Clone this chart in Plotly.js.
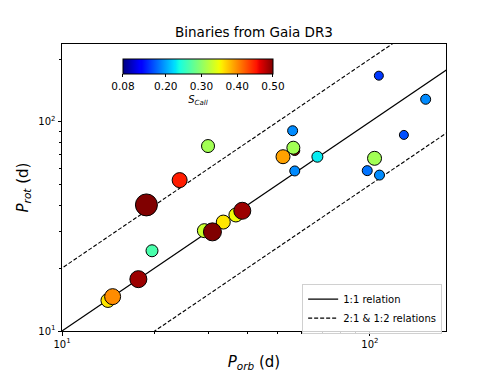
<!DOCTYPE html>
<html>
<head>
<meta charset="utf-8">
<script src="https://cdn.plot.ly/plotly-3.0.1.min.js"></script>
<style>
  html, body { margin: 0; padding: 0; background: #fff; }
  #chart { width: 496px; height: 372px; }
</style>
</head>
<body>
<div id="chart"></div>
<script>
// orbital period (d), rotation period (d), S-index, marker diameter (px)
const pOrb  = [14.1, 14.6, 29.0, 33.4, 30.8, 36.7, 38.5, 17.7, 18.8, 24.1, 29.8, 19.6,
               52.2, 57.0, 56.4, 56.1, 57.0, 67.5, 103.5, 98.0, 107.4, 128.9, 151.7, 106.9];
const pRot  = [14.0, 14.6, 30.2, 33.2, 29.8, 35.9, 37.6, 17.7, 40.1, 52.7, 76.7, 24.2,
               68.2, 73.0, 75.3, 90.8, 58.3, 68.2, 67.0, 58.5, 55.7, 86.7, 128.4, 166.5];
const sCall = [0.36, 0.40, 0.33, 0.36, 0.50, 0.35, 0.49, 0.49, 0.50, 0.45, 0.31, 0.265,
               0.39, 0.50, 0.31, 0.19, 0.19, 0.23, 0.31, 0.18, 0.19, 0.165, 0.19, 0.155];
const dotSize = [15, 17, 15, 15, 19, 15, 18, 18, 23, 16, 14, 13,
                 15, 11, 14, 11, 11, 12, 15, 11, 11, 10, 11, 10];

const cbTicks = [0.08, 0.20, 0.30, 0.40, 0.50];
const relX = [5, 400];

// matplotlib "jet"
const jetSeg = {
  r: [[0, 0], [0.35, 0], [0.66, 1], [0.89, 1], [1, 0.5]],
  g: [[0, 0], [0.125, 0], [0.375, 1], [0.64, 1], [0.91, 0], [1, 0]],
  b: [[0, 0.5], [0.11, 1], [0.34, 1], [0.65, 0], [1, 0]],
};
function seg(pts, t) {
  for (let i = 1; i < pts.length; i++) {
    if (t <= pts[i][0]) {
      const [t0, v0] = pts[i - 1], [t1, v1] = pts[i];
      return v0 + (v1 - v0) * (t - t0) / (t1 - t0);
    }
  }
  return pts[pts.length - 1][1];
}
const jet = [0, 0.11, 0.125, 0.34, 0.35, 0.375, 0.5, 0.64, 0.65, 0.66, 0.89, 0.91, 1].map((t) => {
  const c = ["r", "g", "b"].map((k) => Math.round(255 * seg(jetSeg[k], t)));
  return [t, `rgb(${c.join(",")})`];
});

const font = "DejaVu Sans, sans-serif";

const traces = [
  {
    x: relX, y: relX, type: "scatter", mode: "lines",
    line: { color: "black", width: 1.2 },
    name: "1:1 relation", hoverinfo: "skip",
  },
  {
    x: relX, y: relX.map((v) => v * 2), type: "scatter", mode: "lines",
    line: { color: "black", width: 1.1, dash: "4px,2px" },
    name: "2:1 &amp; 1:2 relations", legendgroup: "d", hoverinfo: "skip",
  },
  {
    x: relX, y: relX.map((v) => v / 2), type: "scatter", mode: "lines",
    line: { color: "black", width: 1.1, dash: "4px,2px" },
    legendgroup: "d", showlegend: false, hoverinfo: "skip",
  },
  {
    x: pOrb, y: pRot, type: "scatter", mode: "markers", showlegend: false,
    marker: {
      color: sCall, size: dotSize.map((d) => d - 1), opacity: 1,
      colorscale: jet, cmin: 0.08, cmax: 0.5,
      line: { color: "black", width: 1 },
      showscale: true,
      colorbar: {
        orientation: "h",
        x: 0.354, xanchor: "center",
        y: 0.948, yanchor: "top",
        lenmode: "pixels", len: 150,
        thickness: 15, thicknessmode: "pixels",
        outlinecolor: "black", outlinewidth: 1,
        ticks: "outside", ticklen: 3, tickcolor: "black",
        tickvals: cbTicks, ticktext: cbTicks.map((v) => v.toFixed(2)),
        tickfont: { family: font, size: 10.5, color: "black" },
        title: { text: "<i>S</i><sub><i>Call</i></sub>", side: "bottom",
                 font: { family: font, size: 10, color: "black" } },
        xpad: 0, ypad: 0,
      },
    },
  },
];

const minorX = [20, 30, 40, 50, 60, 70, 80, 90];
const minorY = [20, 30, 40, 50, 60, 70, 80, 90, 200];

const layout = {
  width: 496, height: 372,
  margin: { l: 62, r: 50, t: 44, b: 41 },
  paper_bgcolor: "white", plot_bgcolor: "white",
  font: { family: font, color: "black" },
  title: {
    text: "Binaries from Gaia DR3",
    x: 0.5, xref: "paper", y: 0.912, yref: "container", yanchor: "middle",
    font: { family: font, size: 13.5, color: "black" },
  },
  xaxis: {
    type: "log", range: [1, 2.247], showgrid: false, zeroline: false,
    showline: true, mirror: true, linecolor: "black", linewidth: 1,
    ticks: "outside", ticklen: 3.5, tickcolor: "black",
    tickvals: [10, 100], ticktext: ["10<sup>1</sup>", "10<sup>2</sup>"],
    tickfont: { family: font, size: 10 },
    minor: { tickvals: minorX, ticks: "outside", ticklen: 2, tickcolor: "black" },
    title: { text: "<i>P</i><sub><i>orb</i></sub> (d)", standoff: 10,
             font: { family: font, size: 15 } },
    automargin: false,
  },
  yaxis: {
    type: "log", range: [1, 2.373], showgrid: false, zeroline: false,
    showline: true, mirror: true, linecolor: "black", linewidth: 1,
    ticks: "outside", ticklen: 3.5, tickcolor: "black",
    tickvals: [10, 100], ticktext: ["10<sup>1</sup>", "10<sup>2</sup>"],
    tickfont: { family: font, size: 10 },
    minor: { tickvals: minorY, ticks: "outside", ticklen: 2, tickcolor: "black" },
    title: { text: "<i>P</i><sub><i>rot</i></sub> (d)", standoff: 6,
             font: { family: font, size: 15 } },
    automargin: false,
  },
  legend: {
    x: 0.99, xanchor: "right", y: -0.009, yanchor: "bottom",
    bgcolor: "rgba(255,255,255,0.8)", bordercolor: "#d0d0d0", borderwidth: 1,
    font: { family: font, size: 10 },
    itemwidth: 30, tracegroupgap: 0,
  },
};

Plotly.newPlot("chart", traces, layout, { displayModeBar: false, staticPlot: true });
</script>
</body>
</html>
